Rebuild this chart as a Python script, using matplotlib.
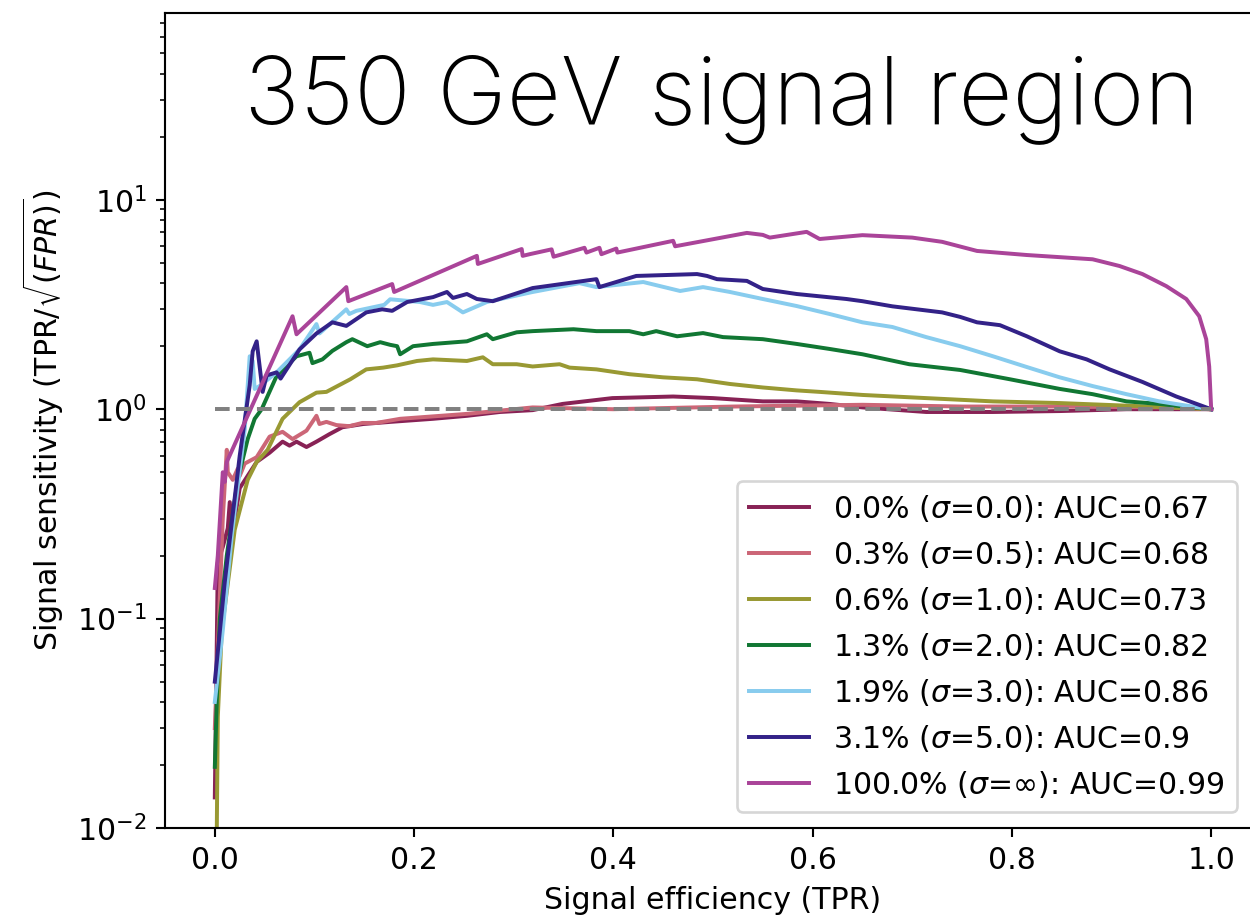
import matplotlib
matplotlib.use("Agg")
import matplotlib.pyplot as plt
import numpy as np

# sensitivity curves TPR/sqrt(FPR) vs signal efficiency, one per smearing width
labels = [
    "0.0% ($\\sigma$=0.0): AUC=0.67",
    "0.3% ($\\sigma$=0.5): AUC=0.68",
    "0.6% ($\\sigma$=1.0): AUC=0.73",
    "1.3% ($\\sigma$=2.0): AUC=0.82",
    "1.9% ($\\sigma$=3.0): AUC=0.86",
    "3.1% ($\\sigma$=5.0): AUC=0.9",
    "100.0% ($\\sigma$=$\\infty$): AUC=0.99",
]
colors = ["#882255", "#CC6677", "#999933", "#117733", "#88CCEE", "#332288", "#AA4499"]

tpr_s0 = [0.0, 0.003, 0.008, 0.013, 0.015, 0.018, 0.025, 0.042, 0.055, 0.068, 0.075,
          0.082, 0.092, 0.102, 0.115, 0.128, 0.149, 0.176, 0.219, 0.253, 0.286, 0.319,
          0.349, 0.399, 0.46, 0.5, 0.55, 0.584, 0.617, 0.65, 0.714, 0.781, 0.848,
          0.915, 0.96, 1.0]
sens_s0 = [0.014, 0.185, 0.22, 0.27, 0.36, 0.26, 0.42, 0.56, 0.62, 0.70, 0.67,
           0.70, 0.66, 0.70, 0.76, 0.82, 0.85, 0.87, 0.90, 0.93, 0.97, 0.99,
           1.06, 1.13, 1.15, 1.13, 1.09, 1.09, 1.06, 1.02, 0.97, 0.97, 0.98,
           1.0, 1.0, 1.0]

tpr_s05 = [0.0, 0.008, 0.012, 0.013, 0.018, 0.023, 0.025, 0.03, 0.042, 0.055, 0.068,
           0.078, 0.092, 0.102, 0.105, 0.112, 0.122, 0.135, 0.148, 0.162, 0.186, 0.253,
           0.319, 0.4, 0.52, 0.65, 0.75, 0.85, 0.95, 1.0]
sens_s05 = [0.03, 0.3, 0.64, 0.50, 0.46, 0.52, 0.48, 0.55, 0.59, 0.74, 0.78,
            0.72, 0.79, 0.93, 0.85, 0.87, 0.84, 0.83, 0.86, 0.86, 0.90, 0.95,
            1.02, 1.0, 1.03, 1.05, 1.03, 1.03, 1.02, 1.0]

tpr_s1 = [0.002, 0.003, 0.007, 0.02, 0.033, 0.042, 0.053, 0.068, 0.085, 0.102, 0.112,
          0.136, 0.152, 0.169, 0.183, 0.203, 0.219, 0.253, 0.269, 0.279, 0.303, 0.319,
          0.346, 0.356, 0.383, 0.416, 0.45, 0.484, 0.517, 0.55, 0.584, 0.607, 0.65,
          0.714, 0.781, 0.848, 0.915, 1.0]
sens_s1 = [0.01, 0.034, 0.088, 0.266, 0.46, 0.56, 0.64, 0.90, 1.08, 1.20, 1.21,
           1.39, 1.55, 1.58, 1.62, 1.70, 1.73, 1.70, 1.77, 1.64, 1.64, 1.60,
           1.64, 1.58, 1.55, 1.47, 1.42, 1.39, 1.32, 1.27, 1.23, 1.21, 1.17,
           1.13, 1.09, 1.07, 1.04, 1.0]

tpr_s2 = [0.0, 0.002, 0.005, 0.012, 0.023, 0.033, 0.040, 0.047, 0.062, 0.082, 0.095,
          0.098, 0.108, 0.118, 0.132, 0.138, 0.153, 0.166, 0.176, 0.183, 0.186, 0.199,
          0.219, 0.253, 0.273, 0.279, 0.303, 0.319, 0.36, 0.383, 0.416, 0.43, 0.443,
          0.464, 0.49, 0.51, 0.55, 0.584, 0.617, 0.65, 0.697, 0.748, 0.798, 0.848,
          0.881, 0.915, 0.948, 0.981, 1.0]
sens_s2 = [0.0196, 0.041, 0.1, 0.2, 0.46, 0.72, 0.9, 1.0, 1.44, 1.79, 1.86,
           1.66, 1.73, 1.90, 2.09, 2.16, 2.0, 2.09, 2.03, 2.0, 1.83, 2.0,
           2.05, 2.11, 2.28, 2.16, 2.33, 2.36, 2.41, 2.36, 2.36, 2.28, 2.36,
           2.23, 2.31, 2.21, 2.16, 2.05, 1.94, 1.83, 1.64, 1.54, 1.39, 1.25,
           1.18, 1.09, 1.06, 1.02, 1.0]

tpr_s3 = [0.0, 0.008, 0.017, 0.030, 0.035, 0.038, 0.040, 0.046, 0.062, 0.085, 0.102,
          0.105, 0.132, 0.135, 0.142, 0.17, 0.176, 0.206, 0.219, 0.233, 0.249, 0.273,
          0.319, 0.366, 0.383, 0.43, 0.467, 0.49, 0.517, 0.55, 0.584, 0.617, 0.65,
          0.68, 0.714, 0.748, 0.781, 0.815, 0.848, 0.881, 0.915, 0.948, 0.981, 1.0]
sens_s3 = [0.04, 0.088, 0.25, 0.8, 1.79, 1.70, 1.25, 1.30, 1.5, 1.93, 2.55,
           2.3, 3.0, 2.85, 2.95, 3.15, 3.35, 3.25, 3.15, 3.25, 2.9, 3.25,
           3.63, 4.0, 3.83, 4.05, 3.67, 3.83, 3.63, 3.36, 3.11, 2.85, 2.6,
           2.47, 2.21, 2.0, 1.79, 1.59, 1.42, 1.29, 1.18, 1.09, 1.03, 1.0]

tpr_s5 = [0.0, 0.01, 0.025, 0.035, 0.038, 0.042, 0.045, 0.048, 0.052, 0.062, 0.066,
          0.085, 0.102, 0.118, 0.132, 0.152, 0.168, 0.178, 0.193, 0.219, 0.233, 0.239,
          0.253, 0.263, 0.279, 0.319, 0.383, 0.386, 0.423, 0.484, 0.494, 0.504, 0.534,
          0.55, 0.584, 0.634, 0.65, 0.68, 0.73, 0.748, 0.765, 0.788, 0.815, 0.848,
          0.875, 0.898, 0.931, 0.965, 1.0]
sens_s5 = [0.05, 0.15, 0.6, 1.3, 1.89, 2.11, 1.6, 1.21, 1.45, 1.5, 1.40,
           1.93, 2.3, 2.6, 2.5, 2.9, 3.0, 2.95, 3.25, 3.43, 3.63, 3.4,
           3.55, 3.36, 3.28, 3.79, 4.18, 3.83, 4.33, 4.42, 4.33, 4.18, 4.1,
           3.75, 3.55, 3.36, 3.28, 3.1, 2.9, 2.76, 2.6, 2.52, 2.23, 1.89,
           1.73, 1.55, 1.35, 1.15, 1.0]

tpr_inf = [0.0, 0.003, 0.008, 0.010, 0.012, 0.078, 0.082, 0.132, 0.134, 0.178, 0.18,
           0.263, 0.264, 0.308, 0.309, 0.316, 0.338, 0.34, 0.371, 0.373, 0.386, 0.388,
           0.403, 0.404, 0.46, 0.462, 0.534, 0.55, 0.557, 0.594, 0.607, 0.65, 0.70,
           0.73, 0.765, 0.815, 0.881, 0.908, 0.931, 0.955, 0.975, 0.988, 0.995,
           0.998, 1.0]
sens_inf = [0.14, 0.2, 0.5, 0.45, 0.56, 2.78, 2.28, 3.83, 3.28, 3.96, 3.63,
            5.4, 4.94, 5.82, 5.4, 5.5, 5.8, 5.35, 5.9, 5.6, 5.9, 5.5,
            5.85, 5.6, 6.37, 6.0, 6.95, 6.8, 6.6, 7.03, 6.5, 6.78, 6.6,
            6.3, 5.7, 5.45, 5.2, 4.83, 4.42, 3.87, 3.36, 2.78, 2.16,
            1.6, 1.0]

tprs = [tpr_s0, tpr_s05, tpr_s1, tpr_s2, tpr_s3, tpr_s5, tpr_inf]
sens = [sens_s0, sens_s05, sens_s1, sens_s2, sens_s3, sens_s5, sens_inf]


def main():
    plt.rcParams['font.size'] = 11.4
    fig = plt.figure(figsize=(1250 / 190, 923 / 190), dpi=190)
    ax = fig.add_axes([0.132, 0.1029, 0.8768, 0.883])

    for x, y, c, lab in zip(tprs, sens, colors, labels):
        ax.plot(np.array(x), np.array(y), color=c, label=lab)

    # random classifier reference
    ax.plot([0, 1], [1, 1], linestyle="--", color="gray", lw=1.5)

    ax.set_yscale("log")
    ax.set_xlim(-0.05, 1.05)
    ax.set_ylim(0.01, 78)
    ax.set_xlabel("Signal efficiency (TPR)")
    ax.set_ylabel("Signal sensitivity (TPR/$\\sqrt{(FPR)}$)")
    ax.legend(loc="lower right", bbox_to_anchor=(0.978, 0.0196), borderaxespad=0)

    fig.text(722 / 1250, 1 - 123 / 923, "350 GeV signal region",
             family="Inter", weight="light", fontsize=35.6,
             ha="center", va="baseline")

    fig.savefig("out.png", dpi=190)


if __name__ == "__main__":
    main()
